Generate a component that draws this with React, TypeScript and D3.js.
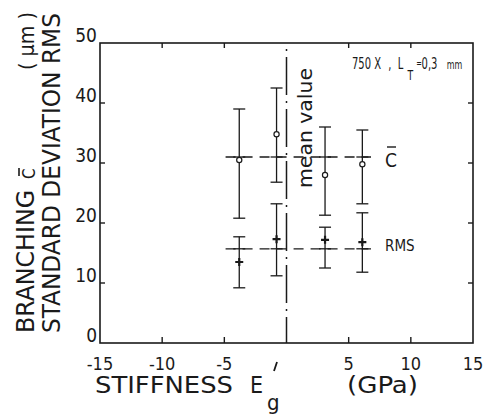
import React from 'react';
import * as d3 from 'd3';

// stiffness positions (GPa) and measured values (um)
const stiffness = [-3.8, -0.8, 3.1, 6.1];
const branchMean = [30.5, 34.8, 28, 29.8];
const branchHigh = [39, 42.5, 36, 35.5];
const branchLow = [20.8, 26.8, 21.3, 23.2];
const rmsValue = [13.5, 17.3, 17.2, 16.8];
const rmsHigh = [17.7, 23.2, 19.3, 21.7];
const rmsLow = [9.2, 11.2, 12.5, 11.8];

const branchAvg = 31;
const rmsAvg = 15.7;
const avgSpan = [-4.9, 6.8];
const meanStiffness = 0;

const xTicks = [-15, -10, -5, 5, 10, 15];
const yTicks = [0, 10, 20, 30, 40, 50];
const innerTicksX = [-10, -5, 5, 10];
const innerTicksY = [10, 20, 30, 40];

const W = 483, H = 417;
const left = 100, right = 473, top = 43, bottom = 343;
const FONT = "'DejaVu Sans Condensed', 'DejaVu Sans', sans-serif";

export default function App() {
  const x = d3.scaleLinear().domain([-15, 15]).range([left, right]);
  const y = d3.scaleLinear().domain([0, 50]).range([bottom, top]);
  const cap = 6;
  const ink = '#1a1a1a';

  const errorBar = (xi: number, hi: number, lo: number, key: string) => (
    <g key={key} stroke={ink} strokeWidth={1.3}>
      <line x1={x(xi)} x2={x(xi)} y1={y(hi)} y2={y(lo)} />
      <line x1={x(xi) - cap} x2={x(xi) + cap} y1={y(hi)} y2={y(hi)} />
      <line x1={x(xi) - cap} x2={x(xi) + cap} y1={y(lo)} y2={y(lo)} />
    </g>
  );

  return (
    <svg width={W} height={H} style={{ position: 'absolute', left: 0, top: 0, background: '#fff' }}
      fontFamily={FONT}>
      <rect width={W} height={H} fill="#fff" />

      {/* frame */}
      <rect x={left} y={top} width={right - left} height={bottom - top} fill="none" stroke={ink} strokeWidth={1.6} />

      {innerTicksX.map(t => (
        <g key={'tx' + t} stroke={ink} strokeWidth={1.4}>
          <line x1={x(t)} x2={x(t)} y1={bottom} y2={bottom - 6} />
          <line x1={x(t)} x2={x(t)} y1={top} y2={top + 5} />
        </g>
      ))}
      {innerTicksY.map(t => (
        <g key={'ty' + t} stroke={ink} strokeWidth={1.4}>
          <line x1={left} x2={left + 5} y1={y(t)} y2={y(t)} />
          <line x1={right} x2={right - 5} y1={y(t)} y2={y(t)} />
        </g>
      ))}

      {xTicks.map(t => (
        <text key={'lx' + t} x={x(t)} y={370} fontSize={18} textAnchor="middle" fill={ink}>
          {t < 0 ? '-' + Math.abs(t) : t}
        </text>
      ))}
      {yTicks.map(t => (
        <text key={'ly' + t} x={97} y={y(t) - 1} fontSize={19} textAnchor="end" fill={ink}>{t}</text>
      ))}

      {/* mean value line */}
      <line x1={x(meanStiffness)} x2={x(meanStiffness)} y1={top} y2={bottom}
        stroke={ink} strokeWidth={1.5} strokeDasharray="38 6 2 6" strokeDashoffset={-14} />
      <text transform={`translate(${x(meanStiffness) + 25},188) rotate(-90)`} fontSize={19} fill={ink}
        textLength={120} lengthAdjust="spacingAndGlyphs">mean value</text>

      {/* average lines */}
      {[branchAvg, rmsAvg].map((v, i) => (
        <line key={'avg' + i} x1={x(avgSpan[0])} x2={x(avgSpan[1])} y1={y(v)} y2={y(v)}
          stroke={ink} strokeWidth={1.3} strokeDasharray="10 7" />
      ))}
      {stiffness.map((s, i) => (
        <g key={'cr' + i} stroke={ink} strokeWidth={1.3}>
          <line x1={x(s) - cap} x2={x(s) + cap} y1={y(branchAvg)} y2={y(branchAvg)} />
          <line x1={x(s) - cap} x2={x(s) + cap} y1={y(rmsAvg)} y2={y(rmsAvg)} />
        </g>
      ))}

      {stiffness.map((s, i) => errorBar(s, branchHigh[i], branchLow[i], 'eb' + i))}
      {stiffness.map((s, i) => errorBar(s, rmsHigh[i], rmsLow[i], 'er' + i))}

      {stiffness.map((s, i) => (
        <circle key={'c' + i} cx={x(s)} cy={y(branchMean[i])} r={2.6} fill="#fff" stroke={ink} strokeWidth={1.2} />
      ))}
      {stiffness.map((s, i) => (
        <path key={'p' + i} d={`M${x(s) - 4},${y(rmsValue[i])}h8M${x(s)},${y(rmsValue[i]) - 4}v8`}
          stroke={ink} strokeWidth={2.2} />
      ))}

      {/* series labels */}
      <text x={385} y={167} fontSize={19} fill={ink}>C</text>
      <line x1={387} x2={396} y1={147} y2={147} stroke={ink} strokeWidth={1.4} />
      <text x={385} y={251} fontSize={15} fill={ink}>RMS</text>

      {/* annotation */}
      <text transform="translate(352,69) scale(0.74,1)" fontSize={15} fill={ink}>
        <tspan x={0}>750 X</tspan>
        <tspan x={49}>,</tspan>
        <tspan x={62}>L</tspan>
        <tspan x={75} dy={11} fontSize={14}>T</tspan>
        <tspan x={87} dy={-13} fontSize={10}>=</tspan>
        <tspan x={94} dy={2}>0,3</tspan>
        <tspan x={128} fontSize={12}>mm</tspan>
      </text>

      {/* y axis titles */}
      <text transform="translate(34,333) rotate(-90)" fontSize={24} fill={ink}
        textLength={143} lengthAdjust="spacingAndGlyphs">BRANCHING</text>
      <text transform="translate(35,179) rotate(-90)" fontSize={17} fill={ink}>C</text>
      <line x1={19} x2={19} y1={168} y2={176} stroke={ink} strokeWidth={1.6} />
      <text transform="translate(34,70) rotate(-90)" fontSize={22} fill={ink}
        textLength={58} lengthAdjust="spacingAndGlyphs">( μm )</text>
      <text transform="translate(60,333) rotate(-90)" fontSize={24} fill={ink}
        textLength={320} lengthAdjust="spacingAndGlyphs">STANDARD DEVIATION RMS</text>

      {/* x axis title */}
      <text x={95} y={393} fontSize={23} fill={ink} textLength={138} lengthAdjust="spacingAndGlyphs">STIFFNESS</text>
      <text x={250} y={393} fontSize={23} fill={ink}>E</text>
      <line x1={277} y1={362} x2={274} y2={371} stroke={ink} strokeWidth={1.8} />
      <text x={267} y={410} fontSize={22} fill={ink}>g</text>
      <text x={347} y={393} fontSize={23} fill={ink} textLength={71} lengthAdjust="spacingAndGlyphs">(GPa)</text>
    </svg>
  );
}
